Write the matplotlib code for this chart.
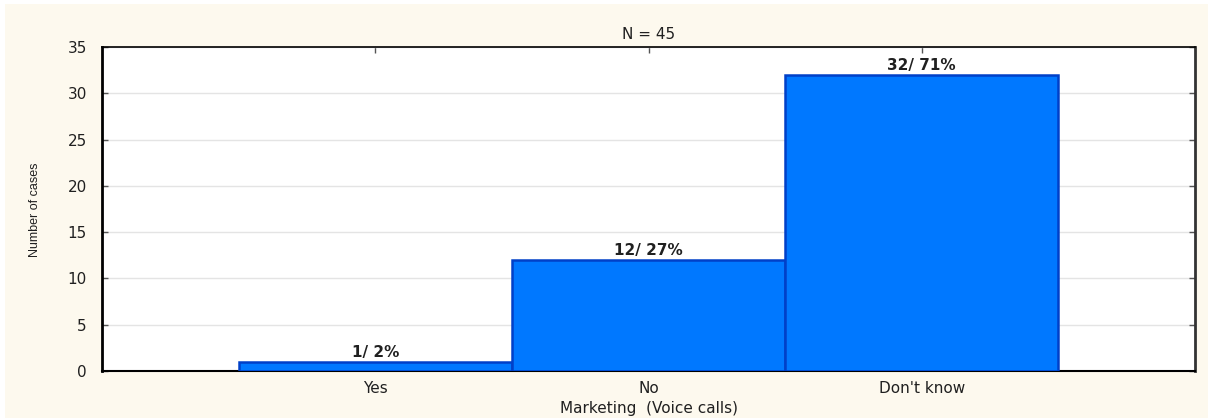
import matplotlib
matplotlib.use('Agg')
import matplotlib.pyplot as plt
from matplotlib.patches import Rectangle

# datos
categorias = ["Yes", "No", "Don't know"]
casos = [1, 12, 32]
porcentajes = [2, 27, 71]
total = 45

plt.rcParams['font.family'] = ['DejaVu Sans']

fig = plt.figure(figsize=(12.08, 4.18), dpi=100)
fig.patch.set_facecolor('white')
# fondo crema con un borde blanco fino arriba e izquierda
fig.patches.append(Rectangle((5 / 1208, -0.01), 1.1, 1.01 - 4 / 418, transform=fig.transFigure,
                             facecolor='#fdf9ee', edgecolor='none', zorder=-10))

ax = fig.add_axes([102 / 1208, 1 - 371 / 418, (1195 - 102) / 1208, (371 - 47) / 418])
ax.set_facecolor('white')

x = list(range(len(categorias)))
ax.bar(x, casos, width=1.0, color='#0078ff', edgecolor='#0040c8', linewidth=1.8, zorder=3)

for xi, c, p in zip(x, casos, porcentajes):
    ax.text(xi, c + 0.2, f"{c}/ {p}%", ha='center', va='bottom', fontsize=11,
            fontweight='bold', color='#202020', zorder=4)

ax.set_xlim(-1, 3)
ax.set_ylim(0, 35)
ax.set_yticks(range(0, 36, 5))
ax.set_xticks(x)
ax.set_xticklabels(categorias)
ax.yaxis.grid(True, color='#e4e4e4', linewidth=1, zorder=0)
ax.tick_params(axis='both', direction='in', length=4, labelsize=11, width=1,
               top=True, right=True, color='#555555', labelcolor='#202020')
ax.tick_params(axis='x', pad=7)
ax.tick_params(axis='y', pad=11)

for s in ax.spines.values():
    s.set_color('black')
    s.set_linewidth(1.2)
ax.spines['left'].set_linewidth(2)
ax.spines['right'].set_color('#333333')
ax.spines['right'].set_linewidth(2)
ax.spines['bottom'].set_linewidth(1.5)

ax.set_title(f"N = {total}", fontsize=11, pad=6, color='#202020')
ax.set_xlabel("Marketing  (Voice calls)", fontsize=11, labelpad=4, color='#202020')
fig.text(35 / 1208, 1 - 210 / 418, "Number of cases", rotation=90, fontsize=9,
         family=['Liberation Sans', 'DejaVu Sans'], ha='center', va='center', color='#202020')

fig.savefig('out.png', dpi=100, facecolor=fig.get_facecolor())
